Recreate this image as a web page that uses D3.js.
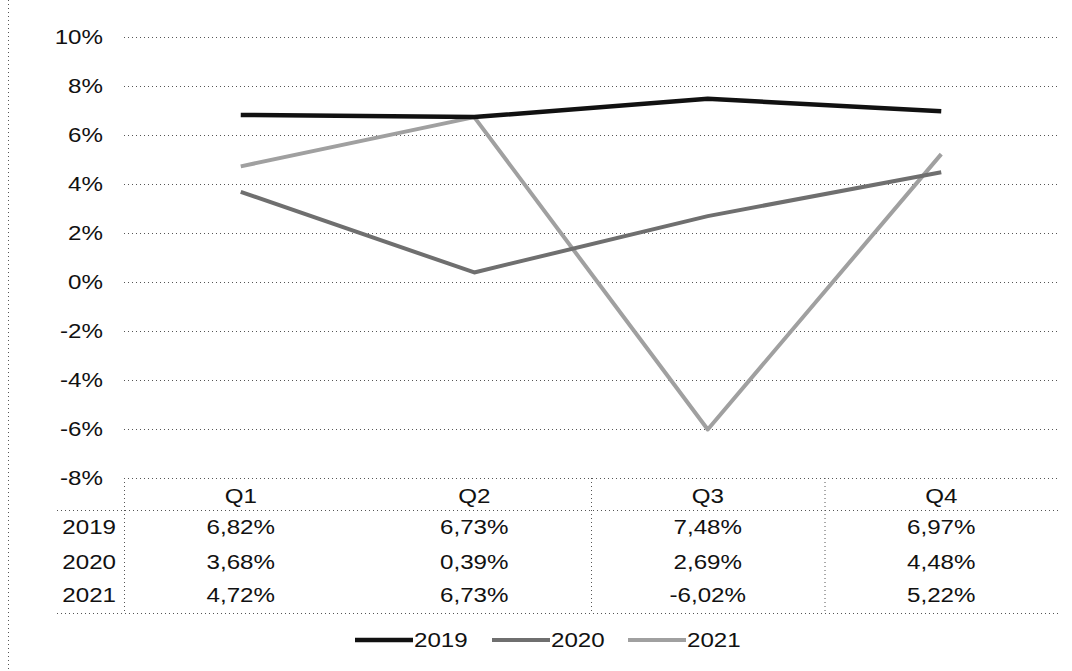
<!DOCTYPE html>
<html><head><meta charset="utf-8">
<script src="https://cdn.jsdelivr.net/npm/d3@7"></script>
<style>html,body{margin:0;padding:0;background:#fff;}svg{display:block;}</style>
</head><body>
<svg id="c" width="1072" height="671"></svg>
<script>
const categories = ["Q1", "Q2", "Q3", "Q4"];
const seriesNames = ["2019", "2020", "2021"];
const values2019 = [6.82, 6.73, 7.48, 6.97];
const values2020 = [3.68, 0.39, 2.69, 4.48];
const values2021 = [4.72, 6.73, -6.02, 5.22];
const yTicks = [10, 8, 6, 4, 2, 0, -2, -4, -6, -8];
const seriesColors = ["#111111", "#6f6f6f", "#a0a0a0"];

const allValues = [values2019, values2020, values2021];
const svg = d3.select("#c");
const FONT = "'Liberation Sans', Arial, sans-serif";
const FS = 21, SX = 1.15;

const x = d3.scaleBand().domain(categories).range([124, 1058]).padding(0);
const y = d3.scaleLinear().domain([-8, 10]).range([478, 37]);

function txt(xp, yp, s, anchor) {
  svg.append("g").attr("transform", `translate(${xp},${yp}) scale(${SX},1)`)
    .append("text").attr("x", 0).attr("y", 0)
    .attr("text-anchor", anchor).attr("dominant-baseline", "central")
    .attr("font-family", FONT).attr("font-size", FS).attr("fill", "#111")
    .text(s);
}
const dotted = sel => sel.attr("stroke", "#555").attr("stroke-width", 1).attr("stroke-dasharray", "1,3");

// outer frame left edge
svg.append("line").attr("x1", 8.5).attr("x2", 8.5).attr("y1", 0).attr("y2", 671).call(dotted);

// gridlines
svg.append("g").selectAll("line").data(yTicks).join("line")
  .attr("x1", 124).attr("x2", 1058)
  .attr("y1", d => y(d) + 0.5).attr("y2", d => y(d) + 0.5)
  .call(dotted);

// y tick labels
yTicks.forEach(t => txt(103, y(t), t + "%", "end"));

// table
const rowY = [527, 562, 595];
const headY = 496, headLine = 510, bottomLine = 613, topLine = y(-8);
svg.append("line").attr("x1", 57).attr("x2", 1058).attr("y1", headLine + 0.5).attr("y2", headLine + 0.5).call(dotted);
svg.append("line").attr("x1", 57).attr("x2", 1058).attr("y1", bottomLine + 0.5).attr("y2", bottomLine + 0.5).call(dotted);
const colEdges = [x("Q1"), x("Q3"), x("Q4")];
svg.append("g").selectAll("line").data(colEdges).join("line")
  .attr("x1", d => d + 0.5).attr("x2", d => d + 0.5)
  .attr("y1", topLine).attr("y2", bottomLine).call(dotted);

categories.forEach(c => txt(x(c) + x.bandwidth() / 2, headY, c, "middle"));
seriesNames.forEach((s, i) => {
  txt(116, rowY[i], s, "end");
  allValues[i].forEach((v, j) => {
    txt(x(categories[j]) + x.bandwidth() / 2, rowY[i], v.toFixed(2).replace(".", ",") + "%", "middle");
  });
});

// lines
const line = d3.line()
  .x((d, i) => x(categories[i]) + x.bandwidth() / 2)
  .y(d => y(d));
[2, 1, 0].forEach(i => {
  svg.append("path").datum(allValues[i])
    .attr("fill", "none").attr("stroke", seriesColors[i])
    .attr("stroke-width", i === 0 ? 4.5 : 4).attr("stroke-linejoin", "round")
    .attr("d", line);
});

// legend
const legX = [355, 492, 628];
seriesNames.forEach((s, i) => {
  svg.append("line").attr("x1", legX[i]).attr("x2", legX[i] + 58)
    .attr("y1", 640).attr("y2", 640)
    .attr("stroke", seriesColors[i]).attr("stroke-width", i === 0 ? 4.5 : 4);
  txt(legX[i] + 59, 640, s, "start");
});
</script>
</body></html>
